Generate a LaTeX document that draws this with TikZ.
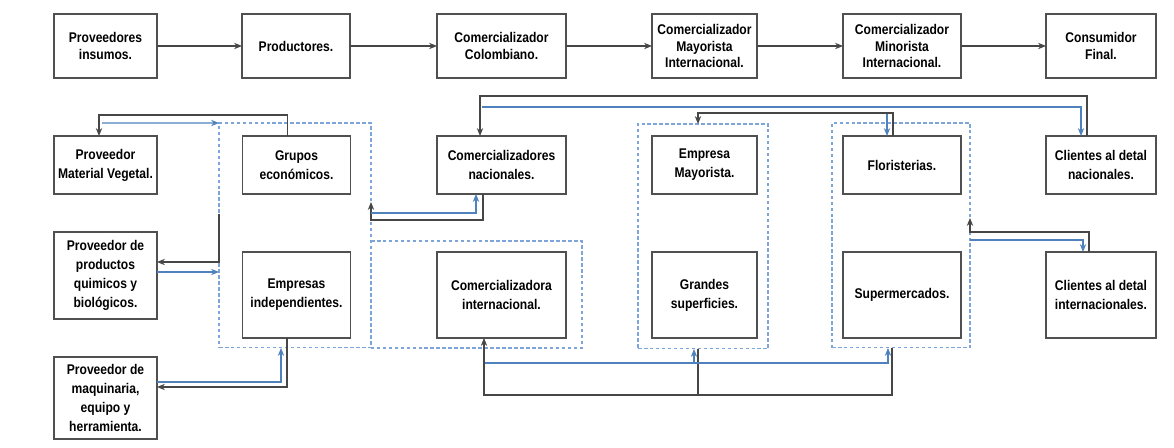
\documentclass[tikz,border=0pt]{standalone}
\usepackage{fontspec}
\setmainfont{Liberation Sans}[FakeStretch=0.86]
\usepackage{tikz}
\usetikzlibrary{calc,positioning,arrows.meta}
\definecolor{linegray}{RGB}{70,70,70}
\definecolor{boxgray}{RGB}{80,80,80}
\definecolor{lineblue}{RGB}{79,129,189}
\definecolor{dashblue}{RGB}{125,165,218}
\tikzset{
	>={Stealth[length=4.5pt,width=3.6pt]},
	caja/.style={draw=boxgray, line width=0.6pt, fill=white, align=center,
		inner sep=0pt, outer sep=0pt, font=\bfseries\fontsize{8}{10.8}\selectfont},
	fila/.style={caja, font=\bfseries\fontsize{8}{9.2}\selectfont, minimum height=1.28cm},
	borde/.style={draw=dashblue, line width=0.6pt, dash pattern=on 2pt off 1.4pt},
	grupo/.style={borde, inner sep=0pt, outer sep=0pt},
	negro/.style={draw=linegray, line width=0.7pt, ->},
	azul/.style={draw=lineblue, line width=0.7pt, ->},
}
\begin{document}
\begin{tikzpicture}[x=0.02cm, y=-0.02cm]
	\useasboundingbox (0,0) rectangle (1174,448);
	% cadena principal
	\node[fila, minimum width=2.06cm] (ins) at (105.5,46) {Proveedores\\insumos.};
	\node[fila, minimum width=2.16cm] (prod) at (296,46) {Productores.};
	\node[fila, minimum width=2.58cm] (colom) at (501.5,46) {Comercializador\\Colombiano.};
	\node[fila, minimum width=2.10cm] (mayint) at (704.5,46) {Comercializador\\Mayorista\\Internacional.};
	\node[fila, minimum width=2.36cm] (minint) at (902,46) {Comercializador\\Minorista\\Internacional.};
	\node[fila, minimum width=2.20cm] (consfin) at (1101,46) {Consumidor\\Final.};
	\draw[negro] (ins) -- (prod);
	\draw[negro] (prod) -- (colom);
	\draw[negro] (colom) -- (mayint);
	\draw[negro] (mayint) -- (minint);
	\draw[negro] (minint) -- (consfin);

	% grupos punteados
	\node[grupo, minimum width=3.04cm, minimum height=4.5cm] (gA) at (295,235.5) {};
	\node[grupo, draw=none, minimum width=4.22cm, minimum height=2.14cm] (gB) at (476.5,294.5) {};
	\draw[borde] (gB.north west) -- (gB.north east) -- (gB.south east) -- (gB.south west);
	\node[grupo, minimum width=2.6cm, minimum height=4.5cm] (gC) at (703,236.5) {};
	\node[grupo, minimum width=2.76cm, minimum height=4.5cm] (gD) at (901,235.5) {};

	% actores
	\node[caja, minimum width=2.06cm, minimum height=1.16cm] (mv) at (105.5,165) {Proveedor\\Material Vegetal.};
	\node[caja, minimum width=2.06cm, minimum height=1.74cm] (pq) at (105.5,275.5) {Proveedor de\\productos\\quimicos y\\biológicos.};
	\node[caja, minimum width=2.06cm, minimum height=1.64cm] (maq) at (105.5,398) {Proveedor de\\maquinaria,\\equipo y\\herramienta.};
	\node[caja, minimum width=2.16cm, minimum height=1.16cm] (grupos) at (296.5,165) {Grupos\\económicos.};
	\node[caja, minimum width=2.16cm, minimum height=1.72cm] (emp) at (296.5,295) {Empresas\\independientes.};
	\node[caja, minimum width=2.58cm, minimum height=1.16cm] (cn) at (501.5,165) {Comercializadores\\nacionales.};
	\node[caja, minimum width=2.58cm, minimum height=1.72cm] (ci) at (501.5,295) {Comercializadora\\internacional.};
	\node[caja, minimum width=2.10cm, minimum height=1.16cm] (emay) at (704.5,165) {Empresa\\Mayorista.};
	\node[caja, minimum width=2.10cm, minimum height=1.72cm] (gs) at (704.5,295) {Grandes\\superficies.};
	\node[caja, minimum width=2.36cm, minimum height=1.16cm] (flor) at (902,165) {Floristerias.};
	\node[caja, minimum width=2.36cm, minimum height=1.72cm] (sup) at (902,295) {Supermercados.};
	\node[caja, minimum width=2.20cm, minimum height=1.16cm] (cnac) at (1101,165) {Clientes al detal\\nacionales.};
	\node[caja, minimum width=2.20cm, minimum height=1.72cm] (cint) at (1101,295) {Clientes al detal\\internacionales.};

	% flujos proveedores
	\draw[negro] ($(grupos.north)+(-9,0)$) -- ++(0,-21) -| ($(mv.north)+(-6.5,0)$);
	\draw[azul] ($(mv.north)+(-3.5,-13)$) -- (gA.north west);
	\draw[negro] ($(gA.west)+(0,-21.5)$) |- ($(pq.east)+(0,-13.5)$);
	\draw[azul] ($(pq.east)+(0,-3.5)$) coordinate (p4) -- (p4 -| gA.west);
	\draw[negro] ($(emp.south)+(-9.5,0)$) |- ($(maq.east)+(0,-11)$);
	\draw[azul] ($(maq.east)+(0,-16)$) -| ($(gA.south)+(-14,0)$);

	% comercializadores
	\draw[negro] ($(cn.south)+(-18.5,0)$) |- ($(gA.east)+(0,-15.5)$) -- ++(0,-18);
	\draw[azul] ($(gA.east)+(0,-22.5)$) -| ($(cn.south)+(-25.5,0)$);
	\draw[negro] ($(cnac.north)+(-14,0)$) -- ++(0,-40) -| ($(cn.north)+(-21.5,0)$);
	\draw[azul] ($(cn.north)+(-19.5,-29)$) -| ($(cnac.north)+(-20,0)$);
	\draw[negro] ($(flor.north)+(-9,0)$) -- ++(0,-23) -| ($(gC.north)+(-5,0)$);
	\draw[azul] ($(flor.north)+(-15,-22)$) -- ($(flor.north)+(-15,0)$);
	\draw[negro] ($(cint.north)+(-12,0)$) -- ++(0,-20) -| ($(gD.east)+(0,-17.5)$);
	\draw[azul] ($(gD.east)+(0,4.5)$) -| ($(cint.north)+(-18,0)$);

	% retorno inferior
	\draw[negro, -] ($(gC.south)+(-5,0)$) -- ++(0,46);
	\draw[negro] ($(gD.south)+(-9,0)$) |- ($(ci.south)+(-17.5,57)$) -- ($(ci.south)+(-17.5,0)$);
	\draw[azul] ($(ci.south)+(-16.5,25)$) -| ($(gD.south)+(-13,0)$);
	\draw[azul] ($(gC.south)+(-9,14)$) -- ($(gC.south)+(-9,0)$);
\end{tikzpicture}
\end{document}
